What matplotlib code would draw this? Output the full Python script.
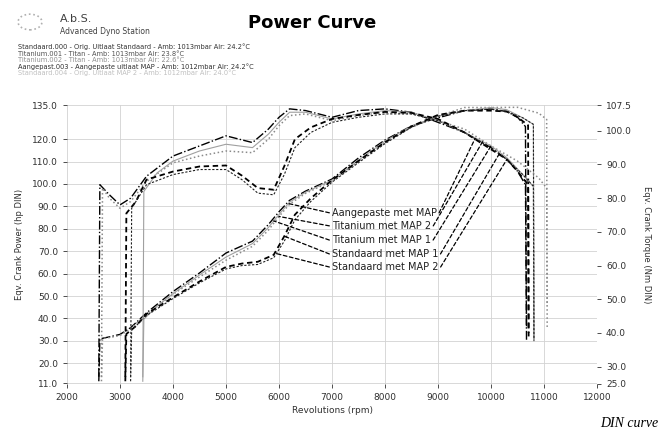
import matplotlib.pyplot as plt
import numpy as np

# runs: rpm, torque (Nm, right axis), power (hp, left axis)
rpm_a = [2600, 2620, 2800, 3000, 3200, 3500, 4000, 4500, 5000, 5500, 5800, 6000, 6200, 6500,
         7000, 7500, 8000, 8500, 9000, 9500, 10000, 10300, 10500, 10650, 10670]
torque_a = [27, 84, 81, 78, 80, 86.5, 92.5, 95.5, 98.5, 96.5, 100.5, 104, 106.5, 106,
            104, 106, 106.5, 105.5, 102.5, 99.5, 95, 91.5, 88, 84, 42]
power_a = [12, 30.9, 31.8, 32.9, 35.9, 42.5, 52.0, 60.3, 69.2, 74.5, 81.9, 87.6, 92.7, 96.8,
           102.2, 111.6, 119.6, 125.9, 129.5, 132.7, 133.4, 132.3, 129.8, 125.6, 30]

rpm_b = [2650, 2670, 2800, 3000, 3200, 3500, 4000, 4500, 5000, 5500, 5800, 6000, 6200, 6500,
         7000, 7500, 8000, 8500, 9000, 9500, 10000, 10500, 10900, 11050, 11060]
torque_b = [27, 83, 80, 77, 79, 85, 90.5, 92.5, 94, 93.5, 97.5, 101.5, 104.5, 105,
            103, 104.5, 105.5, 105, 103, 100.5, 95.5, 91, 86, 83, 48]
power_b = [12, 31.1, 31.5, 32.4, 35.5, 41.8, 50.8, 58.5, 66.0, 72.2, 79.4, 85.5, 91.0, 95.8,
           101.3, 110.1, 118.5, 125.3, 130.2, 134.1, 134.1, 134.2, 131.6, 128.8, 36]

rpm_c = [3430, 3450, 3700, 4000, 4500, 5000, 5500, 5800, 6000, 6200, 6500, 7000, 7500, 8000,
         8500, 9000, 9500, 10000, 10300, 10600, 10800, 10810]
torque_c = [27, 82, 87.5, 91, 94, 96, 95, 99, 102.5, 105.5, 105.5, 103.5, 105, 106,
            105.5, 103, 99.5, 95.5, 92, 87, 83.5, 38]
power_c = [12, 39.7, 45.5, 51.1, 59.4, 67.4, 73.4, 80.6, 86.4, 91.9, 96.3, 101.7, 110.6, 119.1,
           125.9, 130.2, 132.7, 134.1, 133.1, 129.5, 126.6, 30]

rpm_d = [3100, 3120, 3300, 3500, 4000, 4500, 5000, 5300, 5600, 5900, 6100, 6300, 6600, 7000,
         7500, 8000, 8500, 9000, 9500, 10000, 10300, 10500, 10700, 10710]
torque_d = [27, 75.5, 79, 85.5, 87.9, 89.4, 89.7, 86.7, 83, 82.5, 89.5, 97.5, 101, 103.5,
            104.7, 105.6, 105.3, 103.5, 99.5, 94.5, 91.5, 88, 84, 40]
power_d = [12, 33.1, 36.6, 42.0, 49.4, 56.5, 63.0, 64.5, 65.3, 68.4, 76.7, 86.3, 93.6, 101.7,
           110.3, 118.6, 125.7, 130.8, 132.7, 132.7, 132.3, 129.8, 126.2, 32]

rpm_e = [3200, 3220, 3500, 4000, 4500, 5000, 5300, 5600, 5900, 6100, 6300, 6600, 7000, 7500,
         8000, 8500, 9000, 9500, 10000, 10300, 10600, 10800, 10810]
torque_e = [27, 77, 84, 87, 88.5, 88.5, 85.5, 81.5, 81, 87, 95, 99.5, 102.5, 104,
            105, 105, 103, 99.5, 95, 91.5, 87, 83.5, 38]
power_e = [12, 34.8, 41.3, 48.9, 55.9, 62.1, 63.6, 64.1, 67.1, 74.5, 84.0, 92.2, 100.8, 109.5,
           118.0, 125.3, 130.2, 132.7, 133.4, 132.3, 129.5, 126.6, 30]

run_labels = ["Aangepaste met MAP", "Titanium met MAP 2", "Titanium met MAP 1",
              "Standaard met MAP 1", "Standaard met MAP 2"]
header_lines = [
    "Standaard.000 - Orig. Uitlaat Standaard - Amb: 1013mbar Air: 24.2°C",
    "Titanium.001 - Titan - Amb: 1013mbar Air: 23.8°C",
    "Titanium.002 - Titan - Amb: 1013mbar Air: 22.6°C",
    "Aangepast.003 - Aangepaste uitlaat MAP - Amb: 1012mbar Air: 24.2°C",
    "Standaard.004 - Orig. Uitlaat MAP 2 - Amb: 1012mbar Air: 24.0°C",
]
x_ticks = [2000, 3000, 4000, 5000, 6000, 7000, 8000, 9000, 10000, 11000, 12000]
power_ticks = [11, 20, 30, 40, 50, 60, 70, 80, 90, 100, 110, 120, 135]
torque_ticks = [25, 30, 40, 50, 60, 70, 80, 90, 100, 107.5]

runs = [
    (rpm_a, torque_a, power_a, dict(color='black', lw=1.0, ls='-.')),
    (rpm_b, torque_b, power_b, dict(color='#8a8a8a', lw=1.1, ls=':')),
    (rpm_c, torque_c, power_c, dict(color='#a0a0a0', lw=0.8, ls='-')),
    (rpm_d, torque_d, power_d, dict(color='black', lw=1.3, ls=(0, (3, 2)))),
    (rpm_e, torque_e, power_e, dict(color='#202020', lw=0.8, ls=(0, (2, 1.5)))),
]

fig = plt.figure(figsize=(6.63, 4.36), dpi=100)
ax = fig.add_axes([67 / 663, 1 - 383.5 / 436, 530 / 663, 278 / 436])
ax2 = ax.twinx()

for rpm, tq, pw, style in runs:
    ax.plot(rpm, pw, **style)
    ax2.plot(rpm, tq, **style)

ax.set_xlim(2000, 12000)
ax.set_ylim(11, 135)
ax2.set_ylim(25, 107.5)
ax.set_xticks(x_ticks)
ax.set_yticks(power_ticks)
ax.set_yticklabels([f"{v:.1f}" for v in power_ticks])
ax2.set_yticks(torque_ticks)
ax2.set_yticklabels([f"{v:.1f}" for v in torque_ticks])
for a in (ax, ax2):
    a.tick_params(labelsize=6.5, length=3, width=0.6, colors='#303030')
    for s in a.spines.values():
        s.set_visible(False)
ax.grid(True, color='#d2d2d2', lw=0.6)
ax.set_axisbelow(True)

ax.set_xlabel("Revolutions (rpm)", fontsize=6.5, color='#303030', labelpad=3)
ax.set_ylabel("Eqv. Crank Power (hp DIN)", fontsize=6, color='#303030', labelpad=6)
ax2.set_ylabel("Eqv. Crank Torque (Nm DIN)", fontsize=6, color='#303030',
               rotation=270, labelpad=14)

# callout labels with dashed leaders to the power (left) and torque (right) curves
label_y = [0.614, 0.567, 0.516, 0.466, 0.419]
left_rpm = [6150, 6000, 5900, 6100, 5950]
right_rpm = [9700, 9850, 10000, 10150, 10300]
leader = dict(arrowstyle='-', color='black', lw=0.9, linestyle=(0, (3, 2)),
              shrinkA=0, shrinkB=0)
texts = []
for i, (rpm, tq, pw, style) in enumerate(runs):
    t = ax.text(0.5, label_y[i], run_labels[i], transform=ax.transAxes, fontsize=7,
                va='center', ha='left', color='#202020')
    texts.append(t)
    ax.annotate('', xy=(left_rpm[i], np.interp(left_rpm[i], rpm, pw)),
                xytext=(0.495, label_y[i]), textcoords='axes fraction', arrowprops=leader)

fig.canvas.draw()
renderer = fig.canvas.get_renderer()
inv = ax.transAxes.inverted()
for i, (rpm, tq, pw, style) in enumerate(runs):
    bb = texts[i].get_window_extent(renderer)
    xr = inv.transform((bb.x1, bb.y0))[0] + 0.004
    ax2.annotate('', xy=(right_rpm[i], np.interp(right_rpm[i], rpm, tq)),
                 xytext=(xr, label_y[i]), textcoords='axes fraction', arrowprops=leader)

# header block
logo = plt.Circle((30 / 663, 1 - 22 / 436), 0.018, transform=fig.transFigure,
                  fill=False, ec='#b0b0b0', lw=1.2, ls=':')
fig.patches.append(logo)
fig.text(60 / 663, 1 - 19 / 436, "A.b.S.", fontsize=8, color='#404040', va='center')
fig.text(60 / 663, 1 - 31 / 436, "Advanced Dyno Station", fontsize=5.5, color='#404040',
         va='center')
fig.text(312 / 663, 1 - 23 / 436, "Power Curve", fontsize=13, fontweight='bold',
         ha='center', va='center', color='black')
header_colors = ['#303030', '#505050', '#909090', '#303030', '#c0c0c0']
for i, line in enumerate(header_lines):
    fig.text(18 / 663, 1 - (47 + 6.5 * i) / 436, line, fontsize=4.8,
             color=header_colors[i], va='center')

fig.text(658 / 663, 1 - 423 / 436, "DIN curve", fontsize=10, style='italic',
         family='Liberation Serif', ha='right', va='center')

fig.savefig("out.png", dpi=100, facecolor='white')
